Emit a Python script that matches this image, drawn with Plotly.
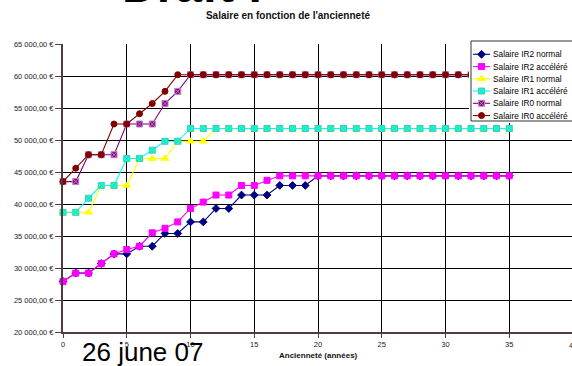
import plotly.graph_objects as go

# ---------------- data ----------------
years = list(range(36))

ir2_normal = [27900, 29200, 29200, 30700, 32200, 32200, 33400, 33400, 35400, 35400,
              37200, 37200, 39300, 39300, 41400, 41400, 41400, 42900, 42900, 42900,
              44400, 44400, 44400, 44400, 44400, 44400, 44400, 44400, 44400, 44400,
              44400, 44400, 44400, 44400, 44400, 44400]
ir2_acc = [27900, 29200, 29200, 30700, 32200, 32900, 33400, 35500, 36200, 37200,
           39300, 40300, 41400, 41400, 42900, 42900, 43700, 44400, 44400, 44400,
           44400, 44400, 44400, 44400, 44400, 44400, 44400, 44400, 44400, 44400,
           44400, 44400, 44400, 44400, 44400, 44400]
ir1_normal = [38700, 38700, 38700, 42900, 42900, 42900, 47100, 47100, 47100, 49800,
              49800, 49800, 51800, 51800, 51800, 51800, 51800, 51800, 51800, 51800,
              51800, 51800, 51800, 51800, 51800, 51800, 51800, 51800, 51800, 51800,
              51800, 51800, 51800, 51800, 51800, 51800]
ir1_acc = [38700, 38700, 40900, 42900, 42900, 47100, 47100, 48400, 49800, 49800,
           51800, 51800, 51800, 51800, 51800, 51800, 51800, 51800, 51800, 51800,
           51800, 51800, 51800, 51800, 51800, 51800, 51800, 51800, 51800, 51800,
           51800, 51800, 51800, 51800, 51800, 51800]
ir0_normal = [43500, 43500, 47700, 47700, 47700, 52500, 52500, 52500, 55700, 57600,
              60200, 60200, 60200, 60200, 60200, 60200, 60200, 60200, 60200, 60200,
              60200, 60200, 60200, 60200, 60200, 60200, 60200, 60200, 60200, 60200,
              60200, 60200, 60200, 60200, 60200, 60200]
ir0_acc = [43500, 45600, 47700, 47700, 52500, 52500, 54100, 55700, 57600, 60200,
           60200, 60200, 60200, 60200, 60200, 60200, 60200, 60200, 60200, 60200,
           60200, 60200, 60200, 60200, 60200, 60200, 60200, 60200, 60200, 60200,
           60200, 60200, 60200, 60200, 60200, 60200]

series_names = ["Salaire IR2 normal", "Salaire IR2 accéléré", "Salaire IR1 normal",
                "Salaire IR1 accéléré", "Salaire IR0 normal", "Salaire IR0 accéléré"]
series_values = [ir2_normal, ir2_acc, ir1_normal, ir1_acc, ir0_normal, ir0_acc]

x_tick_vals = [0, 5, 10, 15, 20, 25, 30, 35]
x_last_tick = 40
y_tick_vals = [20000, 25000, 30000, 35000, 40000, 45000, 50000, 55000, 60000, 65000]
y_tick_text = ["20 000,00 €", "25 000,00 €", "30 000,00 €", "35 000,00 €", "40 000,00 €",
               "45 000,00 €", "50 000,00 €", "55 000,00 €", "60 000,00 €", "65 000,00 €"]

chart_title = "Salaire en fonction de l'ancienneté"
x_title = "Ancienneté (années)"
stamp_text = "26 june 07"
top_text = "Draft !"

# ---------------- styles ----------------
FONT = "Liberation Sans, Arial, sans-serif"
colors = ["#000080", "#FF00FF", "#FFFF00", "#00FFFF", "#800080", "#800000"]
symbols = ["diamond", "square", "triangle-up", "square-x", "square-x", "circle"]
msizes = [6, 6, 7, 6, 6, 6]
mline = ["#000080", "#FF00FF", "#FFFF00", "#40d0a0", "#c080c0", "#800000"]
AXIS_COL = "#4d3d3d"

fig = go.Figure()

for name, vals, c, s, ms, ml in zip(series_names, series_values, colors, symbols, msizes, mline):
    fig.add_trace(go.Scatter(
        x=years, y=vals, name=name, mode="lines+markers",
        line=dict(color=c, width=1.1),
        marker=dict(symbol=s, size=ms, color=c, line=dict(color=ml, width=1)),
        cliponaxis=False, showlegend=False, xaxis="x", yaxis="y"))

# ---------- custom compact legend (own small subplot) ----------
leg_top = 54.3
leg_step = 12.25
for i, (name, c, s, ms, ml) in enumerate(zip(series_names, colors, symbols, msizes, mline)):
    yy = leg_top + leg_step * i
    fig.add_trace(go.Scatter(x=[473, 490], y=[yy, yy], mode="lines",
                             line=dict(color=c, width=1.1), showlegend=False,
                             hoverinfo="skip", xaxis="x2", yaxis="y2"))
    fig.add_trace(go.Scatter(x=[481.5], y=[yy], mode="markers",
                             marker=dict(symbol=s, size=ms, color=c, line=dict(color=ml, width=1)),
                             showlegend=False, hoverinfo="skip", xaxis="x2", yaxis="y2"))
    fig.add_annotation(x=491, y=yy, xref="x2", yref="y2", text=name, showarrow=False,
                       xanchor="left", yanchor="middle",
                       font=dict(family=FONT, size=8.3, color="#000000"))

fig.add_shape(type="rect", xref="x2", yref="y2", x0=471, x1=600, y0=41, y1=121,
              fillcolor="white", line=dict(color="#333333", width=1), layer="below")

L, T, B = 63, 40, 34
plot_h = 366 - T - B

fig.update_layout(
    width=572, height=366,
    margin=dict(l=L, r=0, t=T, b=B, pad=0),
    paper_bgcolor="white", plot_bgcolor="white",
    showlegend=False,
    font=dict(family=FONT, size=7.5, color="#222222"),
    title=dict(text="<b>" + chart_title + "</b>", x=288 / 572, xanchor="center",
               y=1 - 15 / 366, yanchor="middle", yref="container",
               font=dict(family=FONT, size=10, color="#111111")),
    xaxis=dict(range=[0, 39.92], tickvals=x_tick_vals, showgrid=True, gridcolor="#000000",
               gridwidth=1, zeroline=False, showline=True, linecolor=AXIS_COL, linewidth=2,
               ticks="outside", ticklen=4, tickcolor=AXIS_COL, tickwidth=1,
               tickfont=dict(family=FONT, size=7.5, color="#222222"), fixedrange=True),
    yaxis=dict(range=[20000, 65000], domain=[0, 288 / plot_h], tickvals=y_tick_vals,
               ticktext=y_tick_text, showgrid=True, gridcolor="#000000", gridwidth=1,
               zeroline=False, showline=True, linecolor=AXIS_COL, linewidth=2,
               ticks="outside", ticklen=6, tickcolor=AXIS_COL, tickwidth=1,
               tickfont=dict(family=FONT, size=7.5, color="#222222"), fixedrange=True),
    xaxis2=dict(domain=[(469 - L) / 509, 1], range=[469, 572], visible=False,
                anchor="y2", fixedrange=True),
    yaxis2=dict(domain=[(332 - 123) / plot_h, 1], range=[123, 40], visible=False,
                anchor="x2", fixedrange=True),
)

# x-axis title
fig.add_annotation(x=20, y=(332 - 356) / plot_h, xref="x", yref="paper",
                   text="<b>" + x_title + "</b>", showarrow=False,
                   xanchor="center", yanchor="middle",
                   font=dict(family=FONT, size=8, color="#111111"))
# partially visible last tick label (sits just past the right edge)
fig.add_annotation(x=(573 - L) / 509, y=0, xref="paper", yref="paper", text=str(x_last_tick),
                   showarrow=False, xanchor="center", yanchor="top", yshift=-7,
                   font=dict(family=FONT, size=7.5, color="#222222"))
# big date stamp
fig.add_annotation(x=(80 - L) / 509, y=(332 - 352) / plot_h, xref="paper", yref="paper",
                   text=stamp_text, showarrow=False, xanchor="left", yanchor="middle",
                   font=dict(family=FONT, size=26, color="#000000"))
# big text cut at the top
fig.add_annotation(x=(119.5 - L) / 509, y=(332 + 14) / plot_h, xref="paper", yref="paper",
                   text="<b>" + top_text + "</b>", showarrow=False, xanchor="left",
                   yanchor="middle", font=dict(family=FONT, size=48, color="#000000"))

fig.write_html("out.html", config={"displayModeBar": False},
               post_script="document.body.style.margin='0px';document.body.style.overflow='hidden';")
